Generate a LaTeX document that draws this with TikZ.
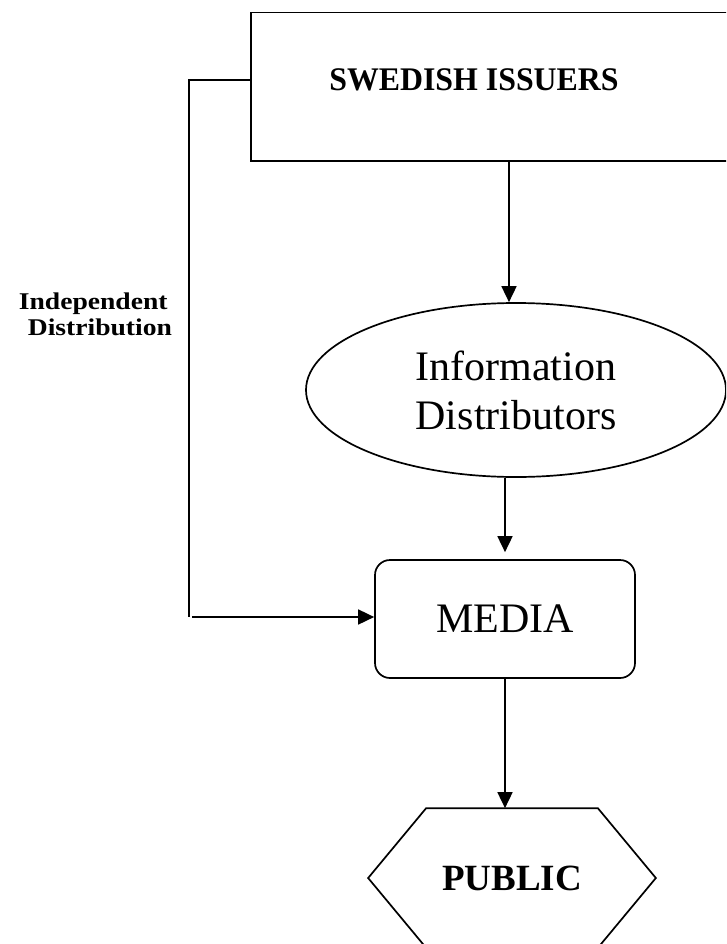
\documentclass[tikz,border=0pt]{standalone}
\usepackage{fontspec}
\setmainfont{Liberation Serif}
\newfontfamily\sidefont[FakeStretch=1.15]{Liberation Serif}
\newfontfamily\issuerfont[FakeStretch=0.965]{Liberation Serif}
\usetikzlibrary{arrows.meta,shapes.geometric}
\begin{document}
\begin{tikzpicture}[x=1pt,y=1pt,line width=1.7pt,
  every node/.style={inner sep=0pt},
  arr/.style={-{Triangle[length=16pt,width=15pt]}},
  bigtext/.style={font=\fontsize{42}{49}\selectfont}]
  \useasboundingbox (0,0) rectangle (726,-944);
  \clip (0,0) rectangle (726,-944);
  % boxes
  \node [draw,minimum width=516,minimum height=148.5] (issuers) at (509,-86.75) {};
  \node [anchor=base,font=\issuerfont\bfseries\fontsize{33}{38}\selectfont] (issuerstext) at (474,-91) {SWEDISH ISSUERS};
  \node [draw,ellipse,minimum width=420,minimum height=174,bigtext,align=center] (info) at (516,-390) {Information\\Distributors};
  \node [draw,rounded corners=15pt,minimum width=260,minimum height=118,bigtext] (media) at (505,-619) {MEDIA};
  \node [minimum width=286,minimum height=138,font=\bfseries\fontsize{37}{42}\selectfont] (public) at (512,-878) {PUBLIC};
  \draw (public.west) -- ([xshift=58]public.north west) -- ([xshift=-58]public.north east)
    -- (public.east) -- ([xshift=-58]public.south east) -- ([xshift=58]public.south west) -- cycle;
  \node [anchor=west,align=left,font=\sidefont\bfseries\fontsize{24}{26}\selectfont] (indep) at (18,-314) {Independent\\\hspace{9pt}Distribution};
  % connectors
  \draw [arr] (issuers.south) -- (issuers.south |- info.north);
  \draw [arr,shorten >=7pt] (media.north |- info.south) -- (media.north);
  \draw [arr] (media.south) -- (media.south |- public.north);
  \coordinate (bend) at (189,-80);
  \coordinate (foot) at (189,-617);
  \draw (issuers.west |- bend) -- (bend) -- (foot);
  \draw [arr] ([xshift=3]foot) -- (foot -| media.west);
\end{tikzpicture}
\end{document}
